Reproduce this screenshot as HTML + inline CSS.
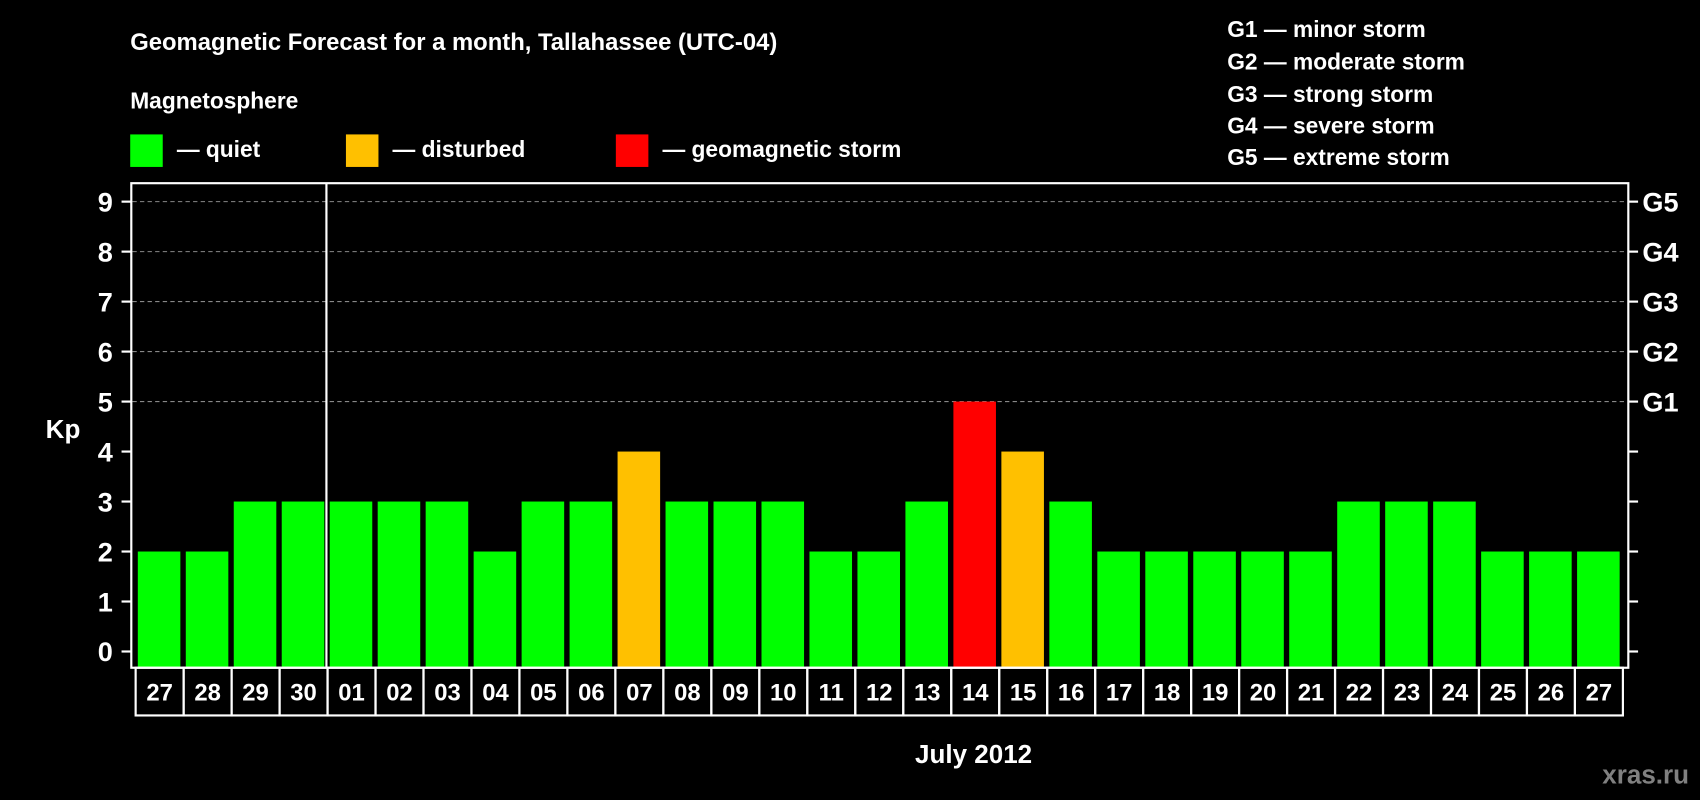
<!DOCTYPE html>
<html><head><meta charset="utf-8"><style>
html,body{margin:0;padding:0;background:#000;}
svg{display:block;font-family:"Liberation Sans",Arial,sans-serif;font-weight:bold;}
</style></head><body>
<svg id="chart" width="1700" height="800" viewBox="0 0 1568 738" xmlns="http://www.w3.org/2000/svg">
<rect x="0" y="0" width="1568" height="738" fill="#000"/>
<text x="120" y="46" fill="#fff" font-size="22">Geomagnetic Forecast for a month, Tallahassee (UTC-04)</text>
<text x="120" y="100" fill="#fff" font-size="21">Magnetosphere</text>
<g><rect x="120" y="124" width="30" height="30" fill="#00ff00"/><text x="163" y="145" fill="#fff" font-size="21">— quiet</text></g>
<g><rect x="319" y="124" width="30" height="30" fill="#ffc000"/><text x="362" y="145" fill="#fff" font-size="21">— disturbed</text></g>
<g><rect x="568" y="124" width="30" height="30" fill="#ff0000"/><text x="611" y="145" fill="#fff" font-size="21">— geomagnetic storm</text></g>
<g fill="#fff" font-size="21">
<text x="1132" y="34">G1 — minor storm</text>
<text x="1132" y="64">G2 — moderate storm</text>
<text x="1132" y="94">G3 — strong storm</text>
<text x="1132" y="123">G4 — severe storm</text>
<text x="1132" y="152">G5 — extreme storm</text>
</g>
<text x="58" y="404" fill="#fff" font-size="24" text-anchor="middle">Kp</text>
<text x="898" y="704" fill="#fff" font-size="24" text-anchor="middle">July 2012</text>
<text x="1558" y="723" fill="#808080" font-size="24" text-anchor="end">xras.ru</text>
<g id="grid"></g><g id="bars"></g><g id="axes"></g><g id="labels"></g>
<rect x="121" y="169" width="1381" height="447" fill="none" stroke="#fff" stroke-width="2"/>
<line x1="301" y1="169" x2="301" y2="616" stroke="#fff" stroke-width="2"/>
</svg>
<script>
const days=["27","28","29","30","01","02","03","04","05","06","07","08","09","10","11","12","13","14","15","16","17","18","19","20","21","22","23","24","25","26","27"];
const kpValues=[2,2,3,3,3,3,3,2,3,3,4,3,3,3,2,2,3,5,4,3,2,2,2,2,2,3,3,3,2,2,2];
const yTicks=[0,1,2,3,4,5,6,7,8,9];
const gLabels=["","","","","","G1","G2","G3","G4","G5"];
const NS="http://www.w3.org/2000/svg";
const x0=124,slot=(1496-124)/days.length;
function yS(v){return 601-v*46.11;}
function xS(i){return x0+i*slot;}
function mk(t,a,p){const e=document.createElementNS(NS,t);for(const k in a)e.setAttribute(k,a[k]);p.appendChild(e);return e;}
const grid=document.getElementById('grid'),bars=document.getElementById('bars'),axes=document.getElementById('axes'),labels=document.getElementById('labels');
yTicks.forEach((v,i)=>{
  const y=yS(v);
  if(v>=5){const g=mk('line',{x1:122,x2:1501,y1:y,y2:y,stroke:'#888','stroke-dasharray':'4,3','stroke-width':1},grid);
  
  }
  const t1=mk('line',{x1:112,x2:121,y1:y,y2:y,stroke:'#fff','stroke-width':2},axes);
  
  
  const t2=mk('line',{x1:1502,x2:1511,y1:y,y2:y,stroke:'#fff','stroke-width':2},axes);
  
  
  const l=mk('text',{x:104,y:y+9,fill:'#fff','font-size':25,'text-anchor':'end'},axes);l.textContent=v;
  
  
  if(gLabels[i]){const g=mk('text',{x:1515,y:y+9,fill:'#fff','font-size':25},axes);g.textContent=gLabels[i];
  
  }
});
kpValues.forEach((v,i)=>{
  const c=v>=5?'#ff0000':(v>=4?'#ffc000':'#00ff00');
  const b=mk('rect',{x:xS(i)+3,y:yS(v),width:slot-5,height:616-yS(v),fill:c},bars);
  
  
});
days.forEach((d,i)=>{
  const r=mk('rect',{x:xS(i)+1,y:616,width:slot,height:44,fill:'none',stroke:'#fff','stroke-width':2},labels);
  
  
  const t=mk('text',{x:xS(i)+1+slot/2,y:646,fill:'#fff','font-size':22,'text-anchor':'middle'},labels);t.textContent=d;
  
  
});
</script>
</body></html>
